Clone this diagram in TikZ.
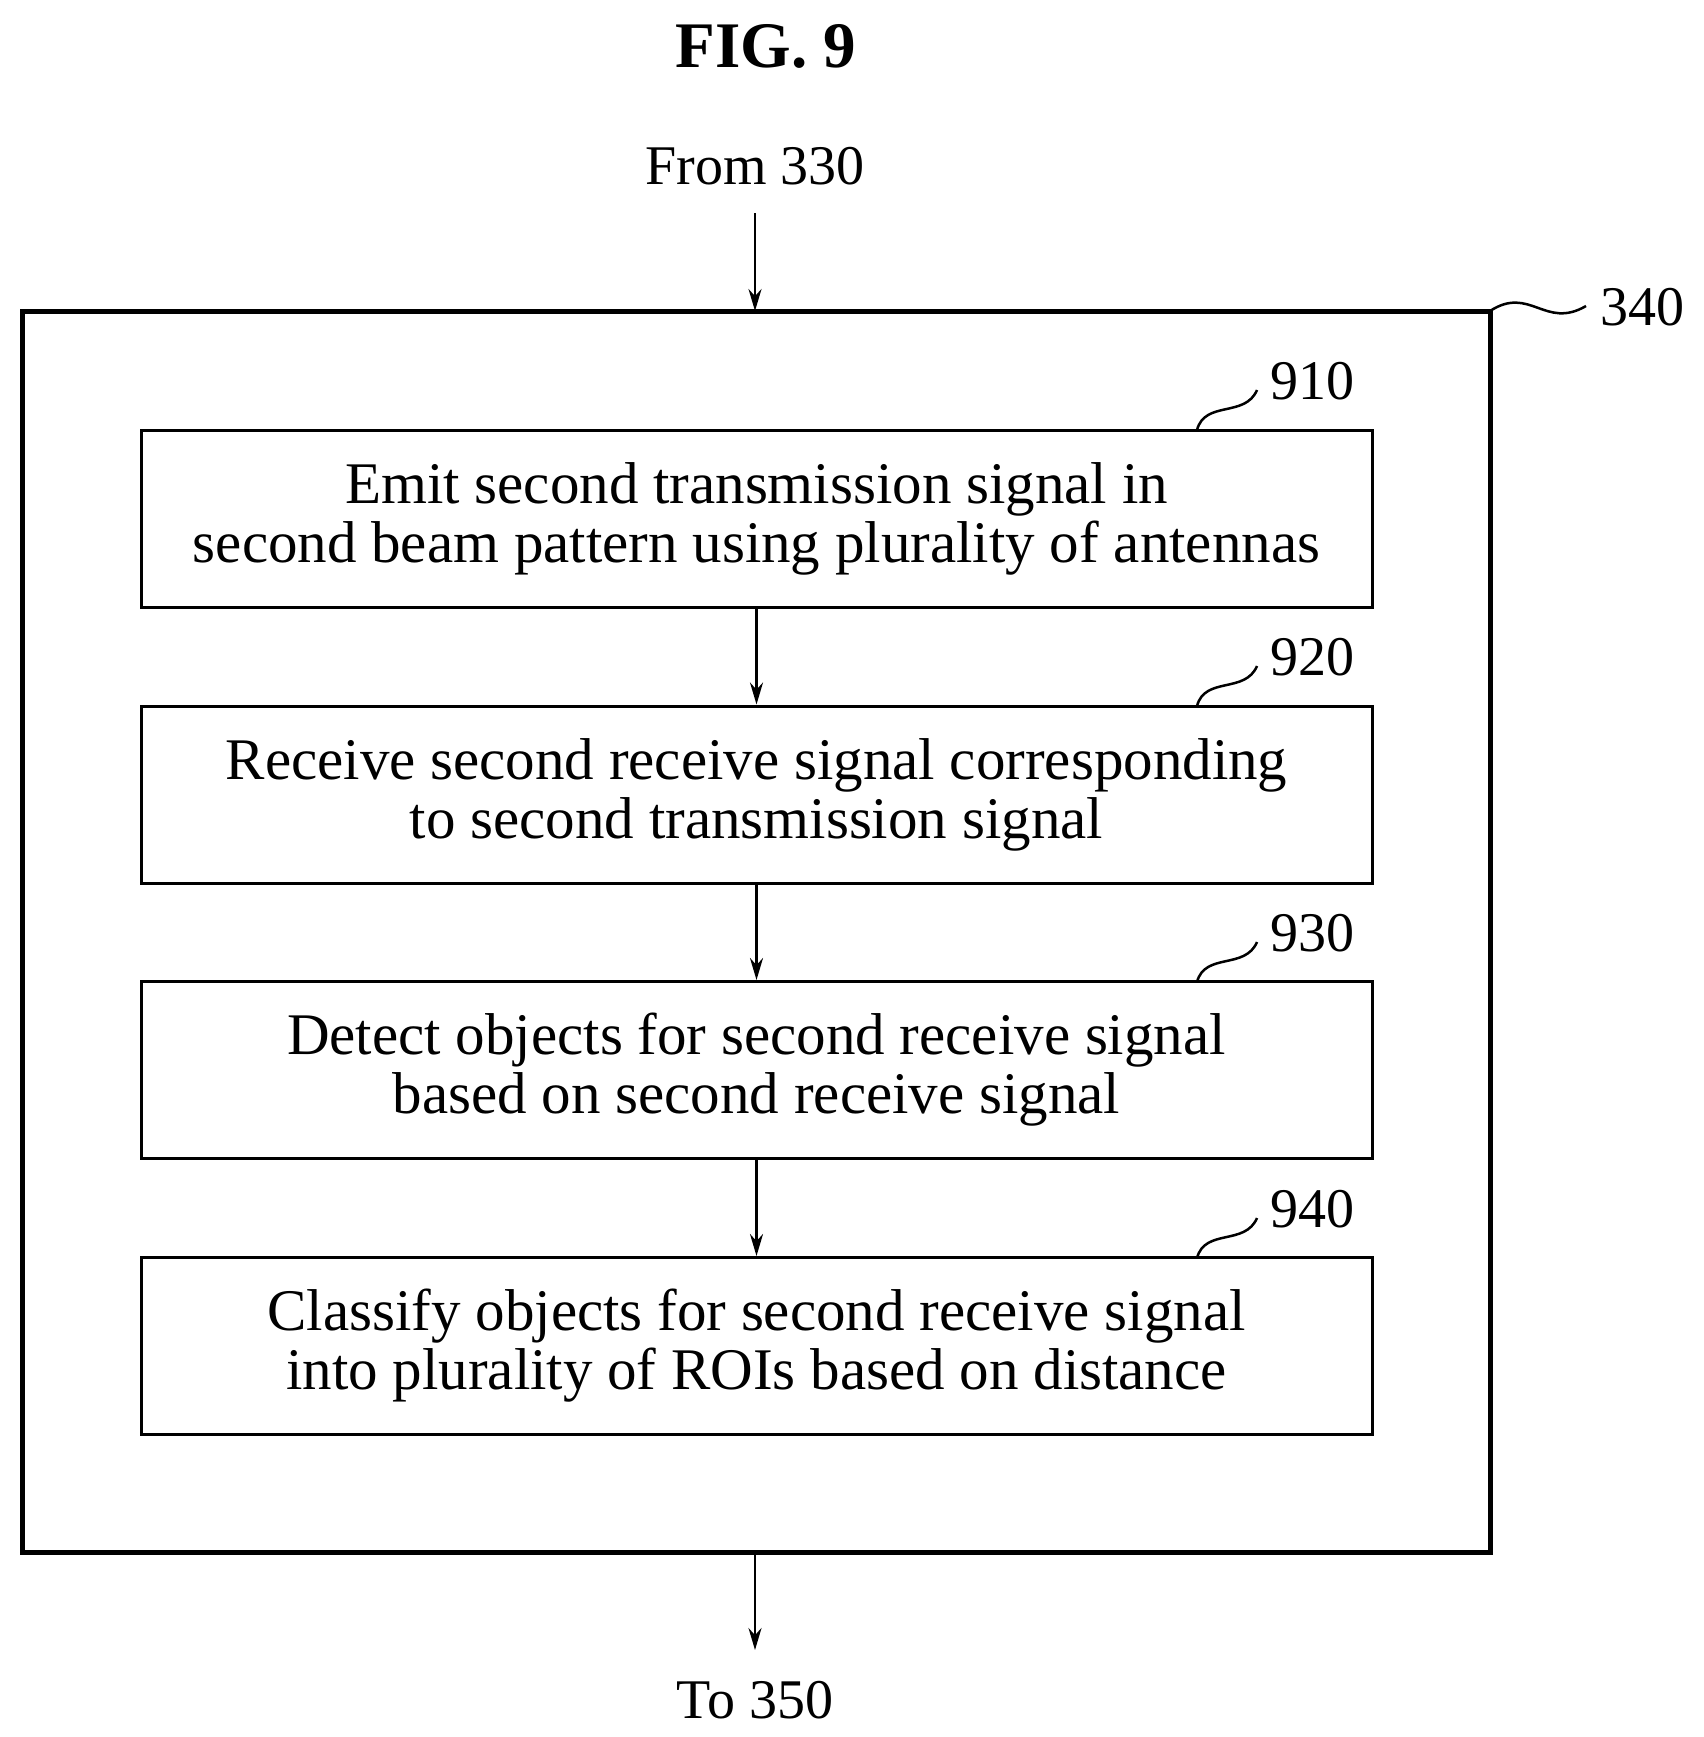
\documentclass[tikz,border=0pt]{standalone}
\usepackage{fontspec}
\setmainfont{Liberation Serif}
\usetikzlibrary{arrows.meta}
\begin{document}
\begin{tikzpicture}[x=1pt,y=-1pt,
 box/.style={draw,line width=3pt,minimum width=1231pt,minimum height=177pt,align=center,font=\fontsize{59}{59}\selectfont,inner sep=0pt},
 lbl/.style={font=\fontsize{56}{59}\selectfont,inner sep=0pt},
 arr/.style={line width=2.5pt,-{Stealth[length=22pt,width=13pt]}},
 sq/.style={line width=2.5pt}]
\useasboundingbox (0,0) rectangle (1704,1737);
\node[font=\bfseries\fontsize{65}{70}\selectfont] (title) at (766,46) {FIG. 9};
\node[lbl] (from) at (755,166) {From 330};
\draw[line width=5pt] (22,311) rectangle (1490,1552);
\coordinate (ot) at (755,311);
\coordinate (ob) at (755,1552);
\node[box] (b1) at (756.5,518.5) {Emit second transmission signal in\\second beam pattern using plurality of antennas};
\node[box] (b2) at (756.5,794.5) {Receive second receive signal corresponding\\to second transmission signal};
\node[box] (b3) at (756.5,1070) {Detect objects for second receive signal\\based on second receive signal};
\node[box] (b4) at (756.5,1346) {Classify objects for second receive signal\\into plurality of ROIs based on distance};
\node[lbl] (to) at (755,1700) {To 350};
\draw[arr] (755,213) -- (ot);
\draw[arr] (b1) -- (b2);
\draw[arr] (b2) -- (b3);
\draw[arr] (b3) -- (b4);
\draw[arr] (ob) -- (755,1650);
\node[lbl,anchor=west] (l340) at (1600,307) {340};
\draw[sq] (1490,311) .. controls (1530,285) and (1545,330) .. (1586,306);
\foreach \n/\y in {910/430,920/706,930/982,940/1258}{
 \node[lbl,anchor=west] (l\n) at (1270,\y-49) {\n};
 \draw[sq] (1197,\y) .. controls (1205,\y-30) and (1245,\y-12) .. (1257,\y-40);
}
\end{tikzpicture}
\end{document}
